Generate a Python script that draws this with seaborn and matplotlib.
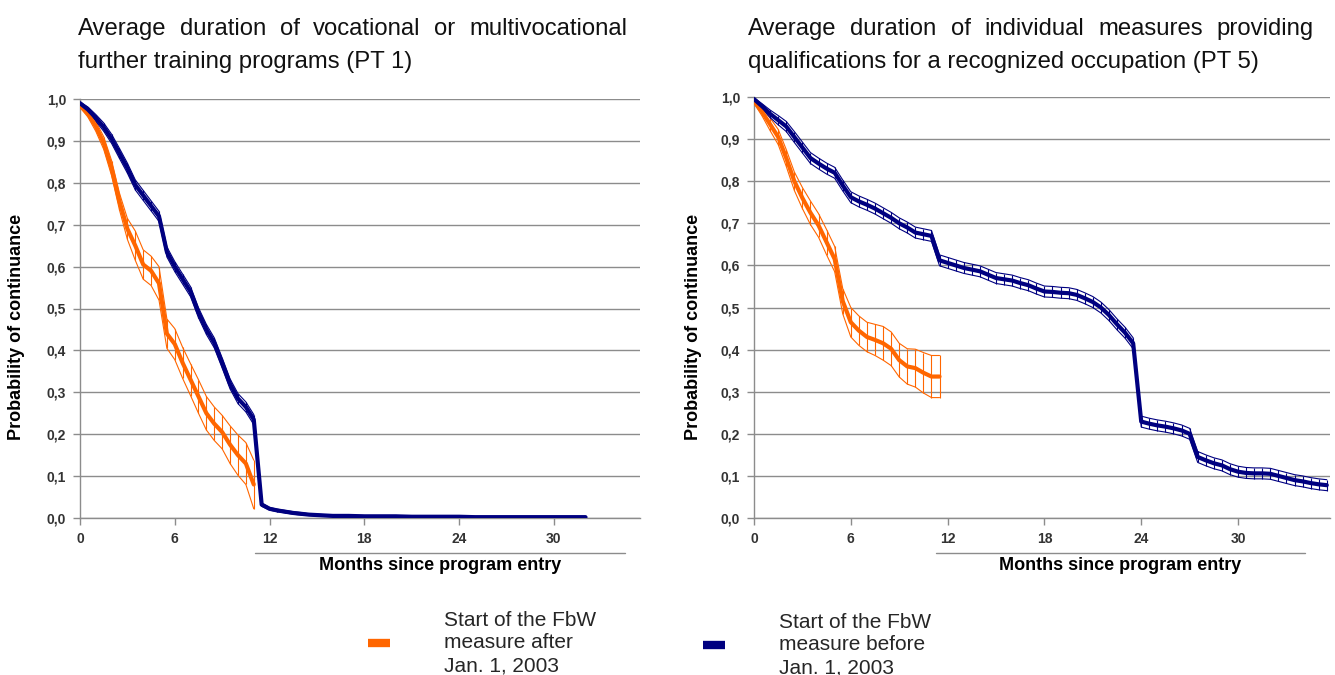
import numpy as np
import pandas as pd
import matplotlib
matplotlib.use("Agg")
import matplotlib.pyplot as plt
import seaborn as sns
from matplotlib.lines import Line2D

# ---------------- data ----------------
ORANGE = "#FF6600"
NAVY = "#000080"

# Left panel (PT 1)
left_after_months = [0, 0.5, 1, 1.5, 2, 2.5, 3, 3.5, 4, 4.5, 5, 5.5, 6, 6.5, 7, 7.5, 8, 8.5, 9, 9.5, 10, 10.5, 11]
left_after_value = [0.985, 0.965, 0.935, 0.895, 0.835, 0.755, 0.69, 0.65, 0.605, 0.59, 0.56, 0.44, 0.415, 0.37,
                    0.33, 0.29, 0.25, 0.225, 0.205, 0.175, 0.15, 0.13, 0.08]
left_after_hw = [0.005, 0.008, 0.012, 0.015, 0.018, 0.02, 0.025, 0.035, 0.035, 0.035, 0.04, 0.035, 0.037, 0.037,
                 0.038, 0.04, 0.04, 0.04, 0.04, 0.045, 0.048, 0.05, 0.058]

left_before_months = [0, 0.5, 1, 1.5, 2, 2.5, 3, 3.5, 4, 4.5, 5, 5.5, 6, 6.5, 7, 7.5, 8, 8.5, 9, 9.5, 10, 10.5, 11,
                      11.5, 12, 12.5, 13, 13.5, 14, 14.5, 15, 15.5, 16, 17, 18, 19, 20, 21, 22, 23, 24, 25, 26, 27,
                      28, 29, 30, 31, 32]
left_before_value = [0.99, 0.975, 0.955, 0.933, 0.905, 0.87, 0.835, 0.795, 0.77, 0.745, 0.72, 0.635, 0.60, 0.57,
                     0.54, 0.49, 0.45, 0.418, 0.37, 0.32, 0.285, 0.265, 0.235, 0.032, 0.022, 0.018, 0.015, 0.012,
                     0.010, 0.008, 0.007, 0.006, 0.005, 0.005, 0.004, 0.004, 0.004, 0.003, 0.003, 0.003, 0.003,
                     0.002, 0.002, 0.002, 0.002, 0.002, 0.002, 0.002, 0.002]
left_before_hw = [0.003, 0.006, 0.008, 0.01, 0.011, 0.012, 0.012, 0.012, 0.012, 0.012, 0.012, 0.012, 0.012, 0.012,
                  0.012, 0.012, 0.012, 0.012, 0.012, 0.012, 0.012, 0.012, 0.012, 0.004, 0.003, 0.003, 0.003, 0.003,
                  0.003, 0.002, 0.002, 0.002, 0.002, 0.002, 0.002, 0.002, 0.002, 0.002, 0.002, 0.002, 0.002,
                  0.002, 0.002, 0.002, 0.002, 0.002, 0.002, 0.002, 0.002]

# Right panel (PT 5)
right_after_months = [0, 0.5, 1, 1.5, 2, 2.5, 3, 3.5, 4, 4.5, 5, 5.5, 6, 6.5, 7, 7.5, 8, 8.5, 9, 9.5, 10, 10.5, 11, 11.5]
right_after_value = [0.99, 0.965, 0.935, 0.905, 0.855, 0.80, 0.76, 0.725, 0.695, 0.655, 0.615, 0.515, 0.465, 0.445,
                     0.43, 0.423, 0.415, 0.402, 0.375, 0.36, 0.356, 0.345, 0.336, 0.336]
right_after_hw = [0.005, 0.01, 0.015, 0.018, 0.02, 0.022, 0.025, 0.028, 0.028, 0.03, 0.03, 0.03, 0.035, 0.035,
                  0.035, 0.037, 0.04, 0.04, 0.04, 0.042, 0.045, 0.048, 0.05, 0.05]

right_before_months = [0, 0.5, 1, 1.5, 2, 2.5, 3, 3.5, 4, 4.5, 5, 5.5, 6, 6.5, 7, 7.5, 8, 8.5, 9, 9.5, 10, 10.5, 11,
                       11.5, 12, 12.5, 13, 13.5, 14, 14.5, 15, 15.5, 16, 16.5, 17, 17.5, 18, 18.5, 19, 19.5, 20,
                       20.5, 21, 21.5, 22, 22.5, 23, 23.5, 24, 24.5, 25, 25.5, 26, 26.5, 27, 27.5, 28, 28.5, 29,
                       29.5, 30, 30.5, 31, 31.5, 32, 32.5, 33, 33.5, 34, 34.5, 35, 35.5]
right_before_value = [0.995, 0.978, 0.96, 0.945, 0.93, 0.905, 0.88, 0.855, 0.842, 0.83, 0.82, 0.79, 0.762, 0.752,
                      0.744, 0.735, 0.724, 0.713, 0.70, 0.69, 0.678, 0.674, 0.670, 0.612, 0.606, 0.60, 0.594, 0.59,
                      0.586, 0.578, 0.57, 0.567, 0.564, 0.558, 0.553, 0.545, 0.538, 0.537, 0.535, 0.534, 0.53,
                      0.522, 0.513, 0.50, 0.482, 0.46, 0.44, 0.415, 0.229, 0.224, 0.22, 0.217, 0.213, 0.208, 0.20,
                      0.145, 0.137, 0.13, 0.125, 0.116, 0.11, 0.107, 0.106, 0.106, 0.105, 0.10, 0.095, 0.09, 0.087,
                      0.083, 0.08, 0.078]
right_before_hw = [0.003, 0.006, 0.009, 0.011, 0.012] + [0.013] * 67

x_ticks = [0, 6, 12, 18, 24, 30]
y_ticks = [0.0, 0.1, 0.2, 0.3, 0.4, 0.5, 0.6, 0.7, 0.8, 0.9, 1.0]
y_tick_labels = ["0,0", "0,1", "0,2", "0,3", "0,4", "0,5", "0,6", "0,7", "0,8", "0,9", "1,0"]

title_left = ["Average duration of vocational or multivocational", "further training programs (PT 1)"]
title_right = ["Average duration of individual measures providing",
               "qualifications for a recognized occupation (PT 5)"]
x_label = "Months since program entry"
y_label = "Probability of continuance"
legend_labels = ["Start of the FbW\nmeasure after\nJan. 1, 2003", "Start of the FbW\nmeasure before\nJan. 1, 2003"]

# ---------------- style ----------------
sns.set_theme(style="white")
plt.rcParams["font.family"] = ["Liberation Sans", "DejaVu Sans"]

W, H = 1335, 675
fig = plt.figure(figsize=(W / 100, H / 100), dpi=100)

ax_l = fig.add_axes([80 / W, (H - 518) / H, 560 / W, 419 / H])
ax_r = fig.add_axes([754 / W, (H - 518) / H, 576 / W, 421 / H])


def draw_series(ax, months, values, hw, color, main_lw):
    df = pd.DataFrame({"m": months, "v": values, "hw": hw})
    df["lo"] = df["v"] - df["hw"]
    df["hi"] = df["v"] + df["hw"]
    sns.lineplot(data=df, x="m", y="hi", ax=ax, color=color, lw=0.8, zorder=3)
    sns.lineplot(data=df, x="m", y="lo", ax=ax, color=color, lw=0.8, zorder=3)
    ax.vlines(df["m"], df["lo"], df["hi"], color=color, lw=0.8, zorder=3)
    sns.lineplot(data=df, x="m", y="v", ax=ax, color=color, lw=main_lw, zorder=4,
                 solid_joinstyle="round")


draw_series(ax_l, left_after_months, left_after_value, left_after_hw, ORANGE, 3.0)
draw_series(ax_l, left_before_months, left_before_value, left_before_hw, NAVY, 3.0)
draw_series(ax_r, right_after_months, right_after_value, right_after_hw, ORANGE, 3.0)
draw_series(ax_r, right_before_months, right_before_value, right_before_hw, NAVY, 3.0)

for ax, xmax in ((ax_l, 35.45), (ax_r, 35.7)):
    ax.set_xlim(0, xmax)
    ax.set_ylim(0, 1.0)
    ax.set_xticks(x_ticks)
    ax.set_xticklabels([str(t) for t in x_ticks])
    ax.set_yticks(y_ticks)
    ax.set_yticklabels(y_tick_labels)
    ax.set_xlabel("")
    ax.set_ylabel("")
    ax.grid(axis="y", color="#8c8c8c", lw=1.0)
    ax.grid(axis="x", visible=False)
    for s in ("top", "right"):
        ax.spines[s].set_visible(False)
    for s in ("left", "bottom"):
        ax.spines[s].set_color("#8c8c8c")
        ax.spines[s].set_linewidth(1.0)
    ax.tick_params(axis="both", which="major", length=5, width=1, color="#8c8c8c",
                   direction="out", bottom=True, left=True, labelsize=10, labelcolor="#333333", pad=5)
    for lab in ax.get_xticklabels() + ax.get_yticklabels():
        lab.set_fontweight("bold")
    ax.set_axisbelow(True)

# x-axis titles with a line above them
for x0, x1 in ((255, 625), (936, 1305)):
    fig.add_artist(Line2D([x0 / W, x1 / W], [(H - 553) / H] * 2, color="#8c8c8c", lw=1.0))
    fig.text((x0 + x1) / 2 / W, (H - 566) / H, x_label, ha="center", va="center",
             fontsize=13, fontweight="bold", color="black")

# y-axis titles
fig.text(17 / W, (H - 327) / H, y_label, rotation=90, ha="center", va="center",
         fontsize=13, fontweight="bold", color="black")
fig.text(693 / W, (H - 327) / H, y_label, rotation=90, ha="center", va="center",
         fontsize=13, fontweight="bold", color="black")

# titles (first line justified)
renderer = fig.canvas.get_renderer()
TFS = 17.2


def justified_title(lines, x0, x1, y_base1, y_base2):
    words = lines[0].split(" ")
    arts = [fig.text(0, 0, w, fontsize=TFS, color="#111111", va="baseline", ha="left") for w in words]
    widths = [a.get_window_extent(renderer).width for a in arts]
    gap = ((x1 - x0) - sum(widths)) / (len(words) - 1)
    x = x0
    for a, w in zip(arts, widths):
        a.set_position((x / W, (H - y_base1) / H))
        x += w + gap
    fig.text(x0 / W, (H - y_base2) / H, lines[1], fontsize=TFS, color="#111111", va="baseline", ha="left")


justified_title(title_left, 78, 627, 35, 68)
justified_title(title_right, 748, 1314, 35, 68)

# legend (one entry per block)
for color, label, x_left, y_c in ((ORANGE, legend_labels[0], 368, 643), (NAVY, legend_labels[1], 703, 645)):
    h = Line2D([], [], color=color, lw=6, solid_capstyle="butt")
    leg = fig.legend(handles=[h], labels=[label], frameon=False, fontsize=15,
                     handlelength=1.05, handletextpad=2.6, loc="center left",
                     bbox_to_anchor=(x_left / W, (H - y_c) / H), borderaxespad=0, borderpad=0)
    for t in leg.get_texts():
        t.set_linespacing(1.25)

fig.savefig("out.png", dpi=100)
